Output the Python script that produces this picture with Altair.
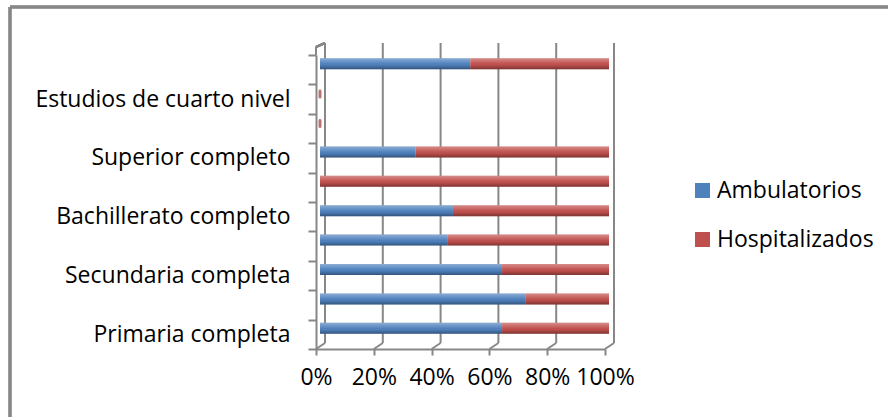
import altair as alt
import pandas as pd

# Education levels, bottom row first
niveles = [
    "Primaria completa",
    "Secundaria incompleta",
    "Secundaria completa",
    "Bachillerato incompleto",
    "Bachillerato completo",
    "Superior incompleto",
    "Superior completo",
    "Cuarto nivel incompleto",
    "Estudios de cuarto nivel",
    "Sin instrucción",
]
# Levels whose name is printed on the axis
niveles_rotulados = [
    "Primaria completa",
    "Secundaria completa",
    "Bachillerato completo",
    "Superior completo",
    "Estudios de cuarto nivel",
]
series = ["Ambulatorios", "Hospitalizados"]
colores = ["#4F81BD", "#C0504D"]

# Share of patients (%) in each level
ambulatorios = [63, 71, 63, 44, 46, 0, 33, 0, 0, 52]
hospitalizados = [37, 29, 37, 56, 54, 100, 67, 0, 0, 48]

ticks_x = [0, 20, 40, 60, 80, 100]

rows = []
for n, a, h in zip(niveles, ambulatorios, hospitalizados):
    rows.append({"Nivel": n, "Serie": series[0], "Orden": 0, "Valor": a})
    rows.append({"Nivel": n, "Serie": series[1], "Orden": 1, "Valor": h})
df = pd.DataFrame(rows)
df_ticks = pd.DataFrame({"v": ticks_x})

FONT = "Open Sans"
FS = 23
GRAY = "#878787"
W, H = 289, 294

orden_y = list(reversed(niveles))
expr_labels = "indexof(" + str(niveles_rotulados) + ", datum.label) >= 0 ? datum.label : ''"

x_scale = alt.Scale(domain=[0, 100], nice=False, zero=True)
x_axis = alt.Axis(
    title=None,
    values=ticks_x,
    labelExpr="datum.value + '%'",
    grid=False,
    tickSize=6,
    tickWidth=2,
    tickColor=GRAY,
    domainColor=GRAY,
    domainWidth=2,
    labelPadding=11,
    labelFont=FONT,
    labelFontSize=FS,
    labelColor="#000000",
    labelFlush=False,
    labelOverlap=False,
)
y_axis = alt.Axis(
    title=None,
    labelExpr=expr_labels,
    tickBand="extent",
    tickSize=8,
    tickWidth=2,
    tickColor=GRAY,
    domainColor=GRAY,
    domainWidth=2,
    labelPadding=18,
    labelFont=FONT,
    labelFontSize=FS,
    labelColor="#000000",
    labelLimit=0,
    grid=False,
)
y_scale = alt.Scale(paddingInner=0, paddingOuter=0)


def x_enc(field, stacked=False):
    if stacked:
        return alt.X(field, stack="zero", scale=x_scale, axis=x_axis)
    return alt.X(field, scale=x_scale, axis=x_axis)


def y_enc():
    return alt.Y("Nivel:N", sort=orden_y, scale=y_scale, axis=y_axis)


base = alt.Chart(df)

# back-wall gridlines
grid = alt.Chart(df_ticks).mark_rule(color=GRAY, strokeWidth=2, xOffset=9).encode(
    x=x_enc("v:Q"),
    y=alt.value(-12),
    y2=alt.value(H - 6),
)
# depth lines joining the floor ticks to the back wall
depth = alt.Chart(df_ticks).mark_rule(color=GRAY, strokeWidth=2, x2Offset=9).encode(
    x=x_enc("v:Q"),
    x2="v:Q",
    y=alt.value(H),
    y2=alt.value(H - 6),
)
# top of the side wall
wall_top = alt.Chart(df_ticks).mark_rule(color=GRAY, strokeWidth=2).encode(
    x=alt.value(0), y=alt.value(-8), y2=alt.value(0)
)
wall_diag = alt.Chart(df_ticks).mark_rule(color=GRAY, strokeWidth=2).encode(
    x=alt.value(0), x2=alt.value(9), y=alt.value(-8), y2=alt.value(-12)
)

bars = base.mark_bar(height=11, xOffset=4, yOffset=-6).encode(
    x=x_enc("Valor:Q", stacked=True),
    y=y_enc(),
    color=alt.Color(
        "Serie:N",
        scale=alt.Scale(domain=series, range=colores),
        legend=alt.Legend(
            title=None,
            orient="none",
            legendX=375,
            legendY=124,
            symbolType="square",
            symbolSize=225,
            symbolStrokeWidth=0,
            labelFont=FONT,
            labelFontSize=FS,
            labelColor="#000000",
            labelOffset=3,
            rowPadding=25,
        ),
    ),
    order=alt.Order("Orden:Q"),
)

# cylinder shading laid over the bars
shade = base.mark_bar(
    height=11,
    xOffset=4,
    yOffset=-6,
    fill=alt.Gradient(
        gradient="linear",
        x1=0, x2=0, y1=0, y2=1,
        stops=[
            alt.GradientStop(color="rgba(255,255,255,0.35)", offset=0),
            alt.GradientStop(color="rgba(255,255,255,0.05)", offset=0.45),
            alt.GradientStop(color="rgba(0,0,0,0.0)", offset=0.6),
            alt.GradientStop(color="rgba(0,0,0,0.35)", offset=1),
        ],
    ),
).encode(
    x=x_enc("Valor:Q", stacked=True),
    y=y_enc(),
    detail="Serie:N",
    order=alt.Order("Orden:Q"),
)

# end caps for levels with no patients
caps = base.transform_joinaggregate(
    total="sum(Valor)", groupby=["Nivel"]
).transform_filter(
    (alt.datum.total == 0) & (alt.datum.Serie == series[1])
).mark_tick(
    color="#9B3B38", size=9, thickness=3, xOffset=4, yOffset=-5, cornerRadius=1.5
).encode(
    x=x_enc("Valor:Q"),
    y=y_enc(),
)

# outer frame lines
frame_top = alt.Chart(df_ticks).mark_rule(color=GRAY, strokeWidth=2.5).encode(
    x=alt.value(-306), x2=alt.value(620), y=alt.value(-48)
)
frame_left = alt.Chart(df_ticks).mark_rule(color=GRAY, strokeWidth=2.5).encode(
    x=alt.value(-306), y=alt.value(-48), y2=alt.value(400)
)

chart = alt.layer(
    grid, depth, wall_top, wall_diag, bars, shade, caps, frame_top, frame_left
).properties(
    width=W,
    height=H,
    autosize=alt.AutoSizeParams(type="none"),
    padding={"left": 316, "top": 55, "right": 283, "bottom": 68},
    background="#ffffff",
).configure_view(stroke=None)

chart.save("out.html", embed_options={"renderer": "svg", "actions": False})
